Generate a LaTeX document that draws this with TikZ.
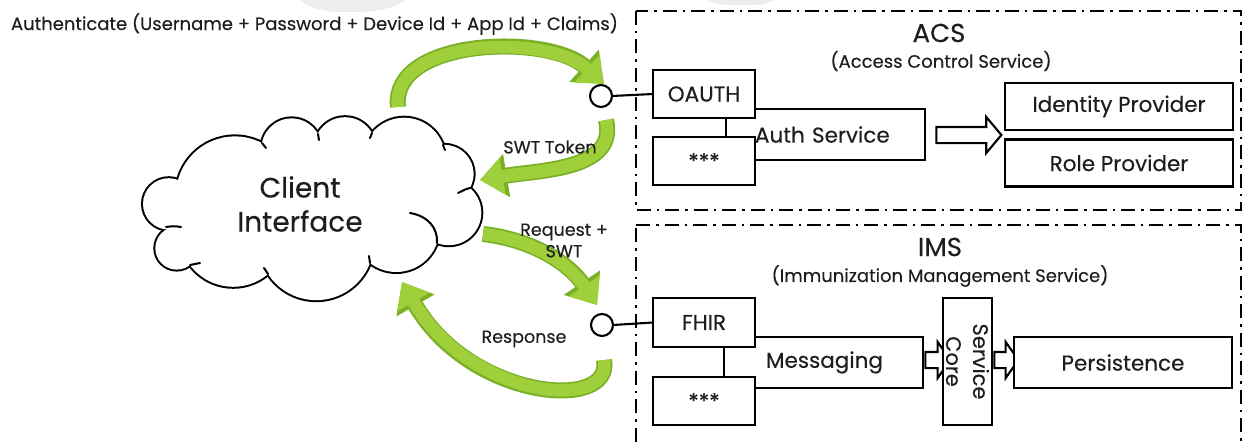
\documentclass[tikz,border=0pt]{standalone}
\usepackage{fontspec}
\setmainfont{Poppins}[FakeBold=0.25]
\usetikzlibrary{arrows.meta,shapes.arrows,calc}
\definecolor{leaf}{HTML}{9FCF3A}
\definecolor{leafedge}{HTML}{7BAF26}
\definecolor{ink}{HTML}{1E1E1E}
\definecolor{haze}{HTML}{EDEDED}
\begin{document}
\begin{tikzpicture}[x=1pt,y=-1pt,
  every node/.style={text=ink, inner sep=0pt, outer sep=0pt},
  lbl/.style={font=\fontsize{21.5}{25}\selectfont},
  note/.style={font=\fontsize{17.5}{21.5}\selectfont},
  heading/.style={font=\fontsize{26}{30}\selectfont},
  subhead/.style={font=\fontsize{18}{22}\selectfont},
  blk/.style={draw=black, line width=2.1pt, fill=white, lbl},
  zone/.style={draw=black, line width=2.3pt, dash pattern=on 14pt off 6pt on 2.5pt off 6pt},
  wire/.style={draw=black, line width=2.1pt},
  port/.style={circle, draw=black, line width=2.1pt, fill=white, minimum size=22pt},
  flow/.style={draw=leaf, line width=12.5pt, -{Triangle[length=23pt,width=36pt]},
    preaction={draw=leafedge, line width=16pt, -{Triangle[length=27pt,width=42pt]}}},
  push/.style={single arrow, draw=black, line width=2.1pt, fill=white, inner sep=7pt,
    single arrow head extend=10pt, single arrow tip angle=100},
  puffline/.style={draw=black, line width=4pt},
  hook/.style={draw=black, line width=2pt, line cap=round},
]
\useasboundingbox (0,0) rectangle (1245,444);

% faint marks along the top edge
\fill[haze] (300,0) -- (405,0) .. controls (395,8) and (380,11) .. (360,12) -- (335,12) .. controls (318,10) and (306,6) .. cycle;
\fill[haze] (708,0) -- (775,0) .. controls (768,4) and (760,5) .. (750,5) -- (730,5) .. controls (720,5) and (712,3) .. cycle;

% service zones
\draw[zone] (636,11) rectangle (1241,210);
\draw[zone] (636,225) -- (1241,225) -- (1241,470) (636,470) -- (636,225);

\node[heading] (acs) at (939,33) {ACS};
\node[subhead] (acssub) at (941,61) {(Access Control Service)};
\node[heading] (ims) at (940,247) {IMS};
\node[subhead] (imssub) at (940,276) {(Immunization Management Service)};

% ACS internals
\node[lbl, minimum width=172pt, minimum height=51pt, text width=168pt, align=left, inner xsep=2pt] (auth) at (839,134.5) {Auth Service};
\draw[wire] (auth.north west) -- (auth.north east) -- (auth.south east) -- (auth.south west);
\node[blk, minimum width=102pt, minimum height=48pt] (oauth) at (704,94) {OAUTH};
\node[blk, minimum width=102pt, minimum height=48pt] (star1) at (704,161) {***};
\draw[wire] ([xshift=22pt]oauth.south) -- ([xshift=22pt]star1.north);
\node[blk, minimum width=228pt, minimum height=47pt] (idp) at (1119,106.5) {Identity Provider};
\node[blk, minimum width=228pt, minimum height=47pt] (role) at (1119,163) {Role Provider};
\node[push, minimum height=65pt] (toprov) at (965.5,135) {};

% IMS internals
\node[lbl, minimum width=170pt, minimum height=51pt, text width=170pt, align=left] (msg) at (838,362.5) {\hspace*{13pt}Messaging};
\draw[wire] (msg.north west) -- (msg.north east) -- (msg.south east) -- (msg.south west);
\node[blk, minimum width=102pt, minimum height=49pt] (fhir) at (704,322.5) {FHIR};
\node[blk, minimum width=102pt, minimum height=48pt] (star2) at (704,401) {***};
\draw[wire] ([xshift=20pt]fhir.south) -- ([xshift=20pt]star2.north);
\node[push, minimum height=25pt, single arrow head extend=10pt, single arrow tip angle=110] (tocore) at (935,360) {};
\node[blk, minimum width=49pt, minimum height=127pt] (core) at (967.5,361.5) {};
\node[lbl, rotate=-90, align=center, font=\fontsize{21}{27}\selectfont] (coretext) at (core.center) {Service\\Core};
\node[push, minimum height=24pt, single arrow head extend=10pt, single arrow tip angle=110] (tostore) at (1003.5,360) {};
\node[blk, minimum width=218pt, minimum height=51pt] (store) at (1123,362.5) {Persistence};

% ports
\node[port] (p1) at (601,96) {};
\node[port] (p2) at (602,325) {};
\draw[wire] (p1.east) -- (oauth.west);
\draw[wire] (p2.east) -- (fhir.west);

% client cloud: union of puffs
\foreach \c/\r in {{(291.6,148.6)}/30.2, {(345,148)}/30.8, {(404.1,159.1)}/41.4, {(444.6,173.9)}/29,
  {(448.8,212.7)}/32.5, {(396.3,229)}/43, {(316.2,242.7)}/57.5, {(233.2,232.9)}/53.9,
  {(176.7,248.2)}/21.4, {(168.7,203.9)}/25.7, {(234.9,195.3)}/58.9}
  {\draw[puffline] \c circle[radius=\r];}
\foreach \c/\r in {{(291.6,148.6)}/30.2, {(345,148)}/30.8, {(404.1,159.1)}/41.4, {(444.6,173.9)}/29,
  {(448.8,212.7)}/32.5, {(396.3,229)}/43, {(316.2,242.7)}/57.5, {(233.2,232.9)}/53.9,
  {(176.7,248.2)}/21.4, {(168.7,203.9)}/25.7, {(234.9,195.3)}/58.9}
  {\fill[white] \c circle[radius=\r];}
\fill[white] (178,180) -- (262,143) -- (318,134) -- (372,133) -- (443,145) -- (470,188)
  -- (437,243) -- (370,263) -- (268,274) -- (190,265) -- (180,227) -- cycle;
% inner hooks of the cloud outline
\draw[hook] (410,213) .. controls (428,216) and (438,228) .. (437,243);
\draw[hook] (470,188) .. controls (466,189) .. (458,193);
\draw[hook] (181,227) .. controls (174,226) .. (166,227);
\draw[hook] (190,265) -- (200,263);
\draw[hook] (268,274) -- (264,268);
\draw[hook] (370,263) -- (369,256);
\draw[hook] (262,143) -- (266,148);
\draw[hook] (318,134) -- (319,140);
\draw[hook] (372,133) -- (370,138);
\draw[hook] (443,145) -- (445,150);
\node[align=center, font=\fontsize{28}{34}\selectfont] (client) at (300,204) {Client\\Interface};

\coordinate (c1) at (398,107);
\coordinate (c2) at (480,180);
\coordinate (c3) at (483,234);
\coordinate (c4) at (402,282);

% message flows
\draw[flow] (c1) .. controls (390,38) and (548,33) .. ([shift={(3,-12)}]p1.center);
\draw[flow] ([shift={(5,24)}]p1.center) .. controls (618,170) and (540,170) .. (c2);
\draw[flow] (c3) .. controls (535,240) and (570,265) .. ([shift={(-5,-20)}]p2.center);
\draw[flow] ([shift={(2,35)}]p2.center) .. controls (614,412) and (470,400) .. (c4);

\node[note, anchor=west, font=\fontsize{18}{22}\selectfont] (authn) at (11,24) {Authenticate (Username + Password + Device Id + App Id + Claims)};
\node[note] (swt) at (550,147) {SWT Token};
\node[note, align=center] (req) at (564,240.5) {Request +\\SWT};
\node[note] (resp) at (524,339) {Response};
\end{tikzpicture}
\end{document}
